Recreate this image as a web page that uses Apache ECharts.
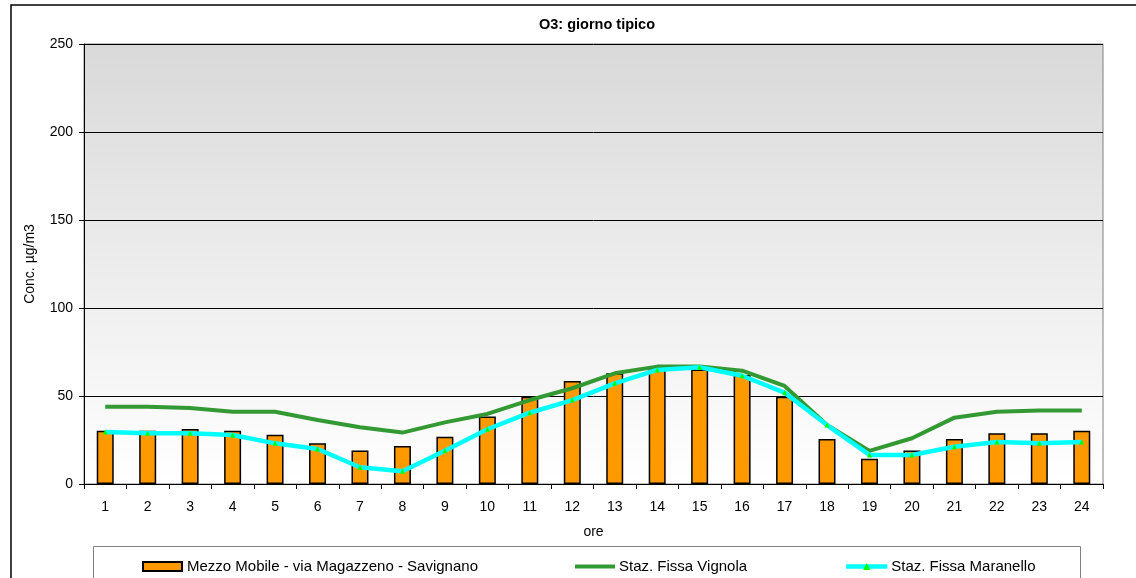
<!DOCTYPE html>
<html><head><meta charset="utf-8">
<script src="https://cdn.jsdelivr.net/npm/echarts@6/dist/echarts.min.js"></script>
<style>html,body{margin:0;padding:0;background:#fff}#c{width:1136px;height:578px}</style>
</head><body><div id="c"></div>
<script>
const hours = ['1','2','3','4','5','6','7','8','9','10','11','12','13','14','15','16','17','18','19','20','21','22','23','24'];
const mezzoMobile = [30.3,30.3,31.2,30.3,28.0,23.1,19.1,21.6,26.9,38.3,49.6,58.5,62.9,65.1,65.1,61.9,49.6,25.6,14.4,19.1,25.6,28.8,28.8,30.3];
const vignola = [43.9,43.9,43.2,41.1,41.1,36.4,32.2,29.2,35.0,39.8,47.7,54.4,62.9,66.7,66.7,64.4,55.7,33.5,18.8,26.0,37.7,41.1,41.7,41.7];
const maranello = [29.5,28.8,28.8,27.8,23.1,19.9,9.5,7.2,18.9,31.1,40.5,47.7,57.2,64.8,66.3,61.5,51.9,33.5,16.5,16.5,21.2,23.9,23.1,23.9];
const yTicks = [0,50,100,150,200,250];

const chart = echarts.init(document.getElementById('c'));
const font = 'Liberation Sans, Arial, sans-serif';
const legText = {fontSize: 15, color: '#000', fontFamily: font};
chart.setOption({
  animation: false,
  backgroundColor: '#fff',
  textStyle: {fontFamily: font},
  title: {text: 'O3: giorno tipico', left: 597, top: 17, textAlign: 'center', padding: 0,
    textStyle: {fontSize: 14.5, fontWeight: 'bold', color: '#000', fontFamily: font}},
  graphic: [
    {type: 'rect', shape: {x: 11, y: 5, width: 1140, height: 600}, style: {fill: 'none', stroke: '#000', lineWidth: 1.5}, z: -1},
    {type: 'rect', shape: {x: 93.5, y: 546.5, width: 987, height: 60}, style: {fill: '#fff', stroke: '#808080', lineWidth: 1}, z: 0}
  ],
  grid: {left: 84, right: 33, top: 44, bottom: 94, show: true,
    backgroundColor: new echarts.graphic.LinearGradient(0,0,0,1,[{offset:0,color:'#d9d9d9'},{offset:1,color:'#ffffff'}]),
    borderColor: '#808080', borderWidth: 1},
  legend: [
    {data: [{name: 'Mezzo Mobile - via Magazzeno - Savignano', icon: 'rect'}], left: 142, top: 559, padding: 0, itemWidth: 39, itemHeight: 9,
      textStyle: legText, z: 5},
    {data: [{name: 'Staz. Fissa Vignola', icon: 'rect'}], left: 575, top: 559, padding: 0, itemWidth: 40, itemHeight: 4,
      textStyle: Object.assign({}, legText, {padding: [0,0,0,-1]}), z: 5},
    {data: [{name: 'Staz. Fissa Maranello'}], left: 844, top: 559, padding: 0, itemWidth: 41, itemHeight: 9,
      lineStyle: {width: 4.5}, textStyle: Object.assign({}, legText, {padding: [0,0,0,-1]}), z: 5}
  ],
  xAxis: {type: 'category', data: hours, name: 'ore', nameLocation: 'middle', nameGap: 41,
    nameTextStyle: {fontSize: 14, color: '#000'},
    axisLine: {lineStyle: {color: '#000'}},
    axisTick: {show: true, alignWithLabel: false, length: 5, lineStyle: {color: '#000'}},
    axisLabel: {fontSize: 14, color: '#000', margin: 16}},
  yAxis: {type: 'value', min: 0, max: 250, interval: 50, name: 'Conc. µg/m3', nameLocation: 'middle', nameGap: 47,
    nameTextStyle: {fontSize: 14, color: '#000'},
    axisLine: {show: true, lineStyle: {color: '#000'}},
    axisTick: {show: true, length: 5, lineStyle: {color: '#000'}},
    axisLabel: {fontSize: 14, color: '#000', margin: 11,
      formatter: v => yTicks.includes(v) ? String(v) : ''},
    splitLine: {show: true, lineStyle: {color: '#000', width: 1}}},
  series: [
    {name: 'Mezzo Mobile - via Magazzeno - Savignano', type: 'bar', data: mezzoMobile, barWidth: '40%',
      itemStyle: {color: '#ff9900', borderColor: '#000', borderWidth: 1.5}, z: 2},
    {name: 'Staz. Fissa Vignola', type: 'line', data: vignola, symbol: 'none',
      lineStyle: {color: '#339933', width: 4}, itemStyle: {color: '#339933'}, z: 3},
    {name: 'Staz. Fissa Maranello', type: 'line', data: maranello, symbol: 'triangle', symbolSize: 5,
      lineStyle: {color: '#00ffff', width: 4.5}, itemStyle: {color: '#00ff00'}, z: 4}
  ]
});
</script></body></html>
